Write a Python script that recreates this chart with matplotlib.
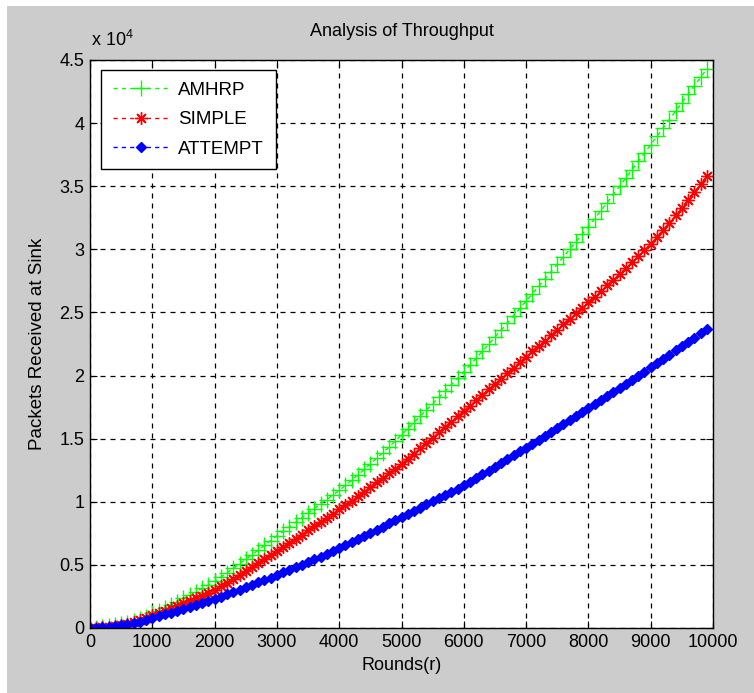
import matplotlib
matplotlib.use("Agg")
import matplotlib.pyplot as plt
from matplotlib.patches import Rectangle
from matplotlib.ticker import FuncFormatter, MultipleLocator

plt.rcParams["font.family"] = ["Liberation Sans Narrow", "Liberation Sans", "DejaVu Sans"]
plt.rcParams["mathtext.default"] = "regular"

# rounds sampled every 100
rounds = list(range(0, 10000, 100))

amhrp = [
    0, 20, 60, 120, 200, 300, 420, 560, 720, 910, 1150,
    1370, 1600, 1840, 2090, 2345, 2605, 2870, 3140, 3415, 3700,
    4040, 4385, 4735, 5090, 5450, 5810, 6175, 6545, 6920, 7300,
    7660, 8020, 8380, 8740, 9100, 9460, 9820, 10180, 10540, 10900,
    11300, 11710, 12130, 12560, 13000, 13445, 13895, 14355, 14820, 15300,
    15785, 16275, 16770, 17270, 17770, 18270, 18775, 19280, 19790, 20300,
    20840, 21385, 21935, 22490, 23050, 23610, 24175, 24745, 25320, 25900,
    26480, 27060, 27645, 28230, 28820, 29410, 30005, 30600, 31200, 31800,
    32430, 33065, 33705, 34350, 35000, 35650, 36305, 36965, 37630, 38300,
    38960, 39620, 40285, 40950, 41615, 42285, 42955, 43625, 44300,
]

simple = [
    0, 20, 55, 105, 170, 250, 350, 470, 610, 785, 1000,
    1180, 1365, 1555, 1750, 1950, 2150, 2355, 2565, 2780, 3000,
    3290, 3585, 3885, 4190, 4500, 4810, 5125, 5445, 5770, 6100,
    6420, 6745, 7070, 7400, 7730, 8060, 8390, 8725, 9060, 9400,
    9750, 10100, 10455, 10810, 11170, 11530, 11895, 12260, 12630, 13000,
    13410, 13820, 14235, 14650, 15070, 15490, 15915, 16340, 16770, 17200,
    17625, 18050, 18475, 18905, 19335, 19765, 20195, 20630, 21065, 21500,
    21925, 22350, 22775, 23205, 23635, 24065, 24495, 24930, 25365, 25800,
    26240, 26685, 27135, 27590, 28050, 28510, 28975, 29445, 29920, 30400,
    30960, 31530, 32110, 32700, 33300, 33910, 34530, 35160, 35800,
]

attempt = [
    0, 15, 40, 80, 135, 205, 290, 390, 510, 650, 800,
    940, 1080, 1225, 1370, 1520, 1670, 1825, 1980, 2140, 2300,
    2480, 2665, 2850, 3040, 3230, 3420, 3610, 3805, 4000, 4200,
    4400, 4600, 4805, 5010, 5220, 5430, 5645, 5860, 6080, 6300,
    6540, 6785, 7030, 7280, 7530, 7780, 8030, 8285, 8540, 8800,
    9045, 9290, 9540, 9790, 10040, 10290, 10540, 10790, 11045, 11300,
    11585, 11875, 12170, 12470, 12770, 13070, 13370, 13675, 13985, 14300,
    14605, 14910, 15215, 15525, 15835, 16145, 16455, 16770, 17085, 17400,
    17720, 18040, 18360, 18685, 19010, 19335, 19660, 19990, 20320, 20650,
    20980, 21315, 21650, 21990, 22330, 22670, 23010, 23355, 23700,
]

series_names = ["AMHRP", "SIMPLE", "ATTEMPT"]

W, H = 754, 693
fig = plt.figure(figsize=(W / 100, H / 100), dpi=100, facecolor="white")
# grey MATLAB-like panel, thin white strip top/left
fig.patches.append(Rectangle((7 / W, 0), 1, 1 - 6 / H, transform=fig.transFigure,
                             facecolor="#cccccc", edgecolor="none", zorder=-10))

ax = fig.add_axes([90 / W, 65 / H, 623 / W, 568 / H])
ax.set_facecolor("white")

dash = (0, (3, 3))
ax.plot(rounds, amhrp, linestyle=dash, color="#00ff00", lw=1.0,
        marker="+", markersize=11, markeredgewidth=1.0, label=series_names[0])
ax.plot(rounds, simple, linestyle=dash, color="#ff0000", lw=1.0,
        marker=(8, 2, 0), markersize=9, markeredgewidth=1.0, label=series_names[1])
ax.plot(rounds, attempt, linestyle=dash, color="#0000ff", lw=1.0,
        marker="D", markersize=5, label=series_names[2])

ax.set_xlim(0, 10000)
ax.set_ylim(0, 45000)
ax.xaxis.set_major_locator(MultipleLocator(1000))
ax.yaxis.set_major_locator(MultipleLocator(5000))
ax.yaxis.set_major_formatter(FuncFormatter(lambda v, p: "%g" % (v / 1e4)))

ax.grid(True, color="black", linestyle=(0, (4, 4)), linewidth=0.9)
ax.tick_params(direction="in", top=True, right=True, length=5, width=0.8,
               labelsize=13, colors="black", pad=4)
for s in ax.spines.values():
    s.set_color("black")
    s.set_linewidth(1.0)

ax.set_xlabel("Rounds(r)", fontsize=13, labelpad=5)
ax.set_ylabel("Packets Received at Sink", fontsize=13.5, labelpad=10)
ax.set_title("Analysis of Throughput", fontsize=13, pad=17)
fig.text(91 / W, 1 - 46 / H, r"x 10$^{4}$", fontsize=13, ha="left", va="baseline")

leg = ax.legend(loc="upper left", bbox_to_anchor=(11 / 623, 1 - 10 / 568), fontsize=13.5,
                borderaxespad=0, fancybox=False, framealpha=1, edgecolor="black",
                handlelength=3.0, handletextpad=0.5, borderpad=0.62, labelspacing=0.66)
leg.get_frame().set_linewidth(1.0)

fig.savefig("out.png", dpi=100, facecolor=fig.get_facecolor())
